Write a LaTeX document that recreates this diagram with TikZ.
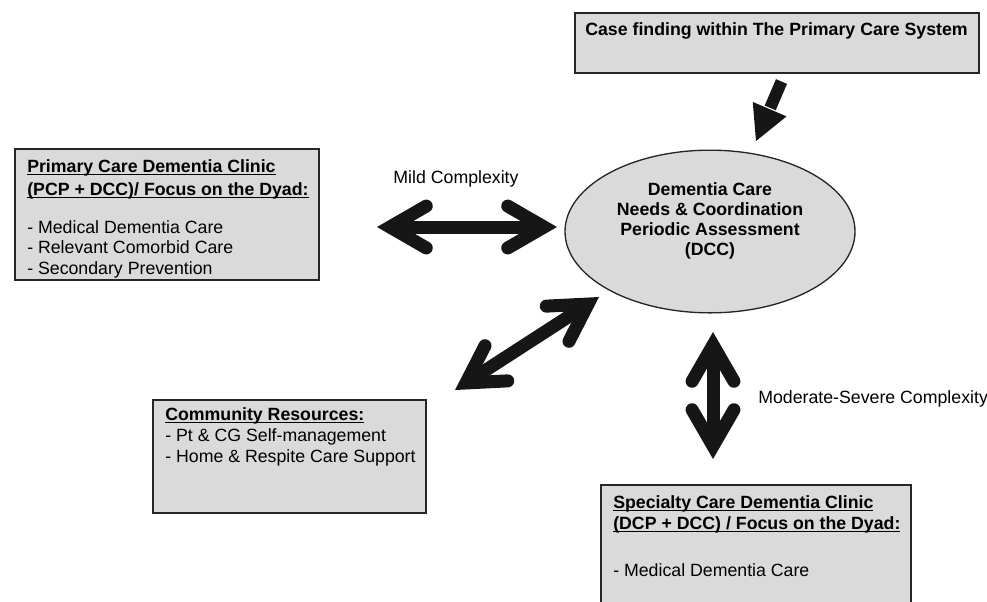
\documentclass[tikz,border=0pt]{standalone}
\usepackage{fontspec}
\setmainfont{Liberation Sans}
\usetikzlibrary{calc,shapes.geometric}
\definecolor{boxfill}{RGB}{218,218,218}
\definecolor{inkblack}{RGB}{22,22,22}
\newcommand\twoheaded[2]{%
  \coordinate (#1c) at ($(#1)!9.75pt!(#2)$);
  \coordinate (#2c) at ($(#2)!9.75pt!(#1)$);
  \draw[fatline] (#1c) -- (#2c);
  \draw[fatline,line cap=round,line join=miter] ($(#1c)!31.4pt!30:(#2c)$) -- (#1c) -- ($(#1c)!31.4pt!-30:(#2c)$);
  \draw[fatline,line cap=round,line join=miter] ($(#2c)!31.4pt!30:(#1c)$) -- (#2c) -- ($(#2c)!31.4pt!-30:(#1c)$);
}
\begin{document}
\begin{tikzpicture}[x=0.75pt,y=-0.75pt,
  panel/.style={draw=black!85,line width=1pt,fill=boxfill},
  txt/.style={anchor=base west,inner sep=0pt,font=\fontsize{13.3}{15.6}\selectfont},
  ctxt/.style={anchor=base,inner sep=0pt,font=\fontsize{13.3}{15.6}\selectfont},
  btxt/.style={anchor=base west,inner sep=0pt,font=\fontsize{13.3}{15.6}\selectfont\bfseries},
  cbtxt/.style={anchor=base,inner sep=0pt,font=\fontsize{13.3}{15.6}\selectfont\bfseries},
  fatline/.style={draw=inkblack,line width=9.75pt}]
\useasboundingbox (0,0) rectangle (987,601);
\clip (0,0) rectangle (987,601);
% boxes
\draw[panel] (575,13) rectangle (979,73);
\node[draw=none,fill=none] (topbox) at (777,43) {};
\node[cbtxt] (toptitle) at (776.5,35) {Case finding within The Primary Care System};

\draw[panel] (15,149) rectangle (319,280);
\node (leftbox) at (167,214) {};
\node[btxt] (l1) at (27,172) {\underline{\smash{Primary Care Dementia Clinic}}};
\node[btxt] (l2) at (27,195) {\underline{\smash{(PCP + DCC)/ Focus on the Dyad:}}};
\node[txt] (l3) at (27,233) {- Medical Dementia Care};
\node[txt] (l4) at (27,253) {- Relevant Comorbid Care};
\node[txt] (l5) at (27,274) {- Secondary Prevention};

\draw[panel] (153,400) rectangle (426,513);
\node (combox) at (290,456) {};
\node[btxt] (c1) at (165,420) {\underline{\smash{Community Resources:}}};
\node[txt] (c2) at (165,441) {- Pt \& CG Self-management};
\node[txt] (c3) at (165,462) {- Home \& Respite Care Support};

\draw[panel] (601,485) rectangle (911,640);
\node (specbox) at (756,560) {};
\node[btxt] (s1) at (613,508) {\underline{\smash{Specialty Care Dementia Clinic}}};
\node[btxt] (s2) at (613,529) {\underline{\smash{(DCP + DCC) / Focus on the Dyad:}}};
\node[txt] (s3) at (613,576) {- Medical Dementia Care};

% ellipse
\node[ellipse,panel,minimum width=217.5pt,minimum height=122pt,inner sep=0pt] (dcc) at (710,231.5) {};
\node[cbtxt] (e1) at (710,195) {Dementia Care};
\node[cbtxt] (e2) at (710,215) {Needs \& Coordination};
\node[cbtxt] (e3) at (710,235) {Periodic Assessment};
\node[cbtxt] (e4) at (710,255) {(DCC)};

% labels
\node[ctxt] (mild) at (456,183) {Mild Complexity};
\node[txt] (mod) at (758,403) {Moderate-Severe Complexity};

% top block arrow
\coordinate (ta) at (781.5,81.5);
\coordinate (tb) at (756,141);
\coordinate (hb) at ($(tb)!26pt!(ta)$);
\draw[draw=inkblack,line width=9pt] (ta) -- ($(hb)!-1pt!(tb)$);
\fill[inkblack] (tb) -- ($(hb)!13.8pt!90:(tb)$) -- ($(hb)!13.8pt!-90:(tb)$) -- cycle;

% double arrows
\coordinate (m1) at (377,227);
\coordinate (m2) at (557,227);
\twoheaded{m1}{m2}
\coordinate (d1) at (455,390);
\coordinate (d2) at (599,297);
\twoheaded{d1}{d2}
\coordinate (v1) at (713,332);
\coordinate (v2) at (713,459);
\twoheaded{v1}{v2}
\end{tikzpicture}
\end{document}
